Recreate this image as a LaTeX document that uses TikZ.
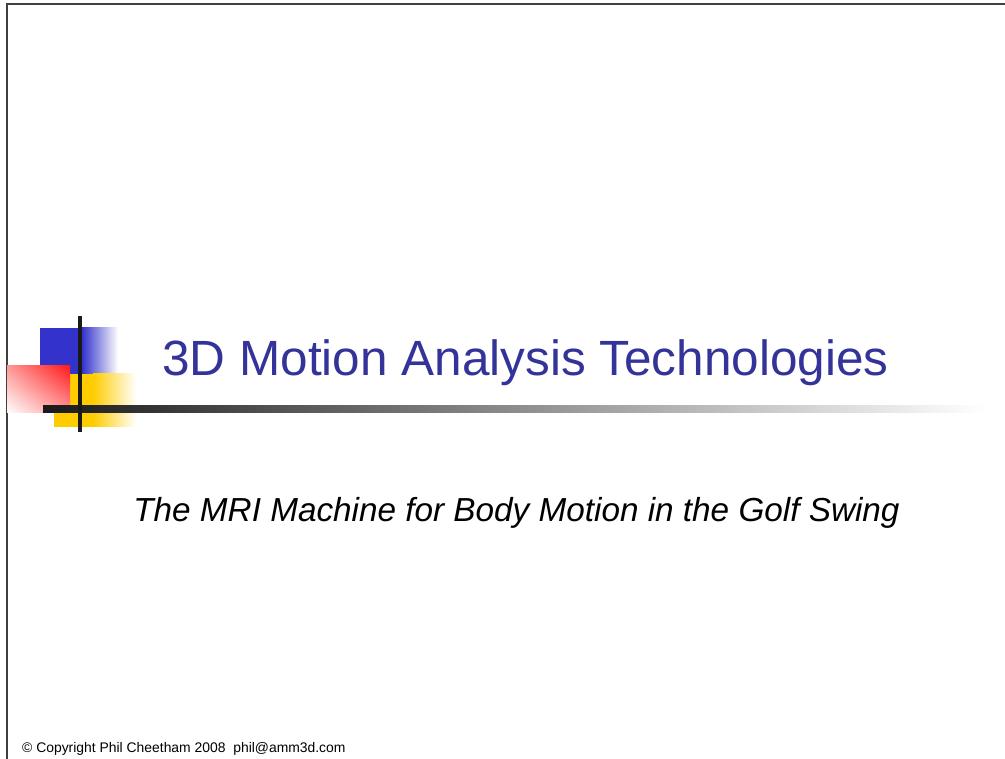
\documentclass[tikz,border=0pt]{standalone}
\usepackage{fontspec}
\setmainfont{Liberation Sans}
\usetikzlibrary{shadings}
\definecolor{titleblue}{HTML}{333399}
\definecolor{sqblue}{HTML}{3333CC}
\definecolor{sqyellow}{HTML}{FFCC00}
\definecolor{sqred}{HTML}{FF1A1A}
\definecolor{barblack}{HTML}{1A1A1A}
\tikzset{
  frameline/.style={line width=1.2pt, draw=black!75},
  title/.style={text=titleblue, inner sep=0pt, anchor=base, font=\fontsize{49.5}{52}\selectfont},
  subtitle/.style={text=black, inner sep=0pt, anchor=base, font=\fontsize{33.3}{36}\selectfont\itshape},
  footer/.style={text=black, inner sep=0pt, anchor=base west, font=\fontsize{13.9}{16}\selectfont},
}
\begin{document}
\begin{tikzpicture}[x=1pt,y=-1pt]
\useasboundingbox (0,0) rectangle (1005,759);
% frame
\coordinate (tl) at (7,4);
\coordinate (tr) at (1005,4);
\coordinate (bl) at (7,759);
\draw[frameline] (bl) -- (tl) -- (tr);
% blue square
\fill[sqblue] (40,328) rectangle (82,374);
\shade[left color=sqblue, right color=white] (82,328) rectangle (118,374);
% yellow square
\fill[sqyellow] (54,374) rectangle (93,427);
\shade[left color=sqyellow, right color=white] (93,374) rectangle (136,427);
% red square
\shade[upper right=sqred, lower left=white, upper left=sqred!45, lower right=sqred!45] (7,366) rectangle (70,413);
% horizontal bar
\shade[left color=barblack, right color=white, middle color=black!45] (43,406) rectangle (985,413);
% vertical bar
\fill[barblack] (78,316) rectangle (82,432);
% texts
\node[title] (t) at (525.5,376) {3D Motion Analysis Technologies};
\node[subtitle] (s) at (516.5,521) {The MRI Machine for Body Motion in the Golf Swing};
\node[footer] (f) at (22,752) {\textcopyright{} Copyright Phil Cheetham 2008\ \ phil@amm3d.com};
\end{tikzpicture}
\end{document}
